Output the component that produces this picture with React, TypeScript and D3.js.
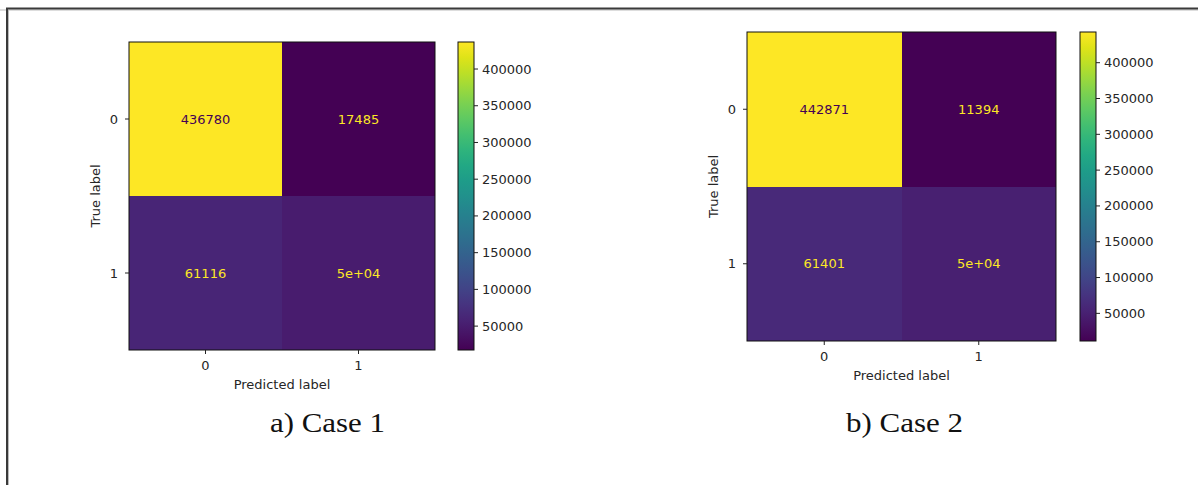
import React from "react";
import * as d3 from "d3";

// ---- data ----
const classLabels = ["0", "1"];
const case1Values = [
  [436780, 17485],
  [61116, 50000],
];
const case2Values = [
  [442871, 11394],
  [61401, 50000],
];
const colorbarTicks = [50000, 100000, 150000, 200000, 250000, 300000, 350000, 400000];
const panelTitles = ["a) Case 1", "b) Case 2"];
const xAxisTitle = "Predicted label";
const yAxisTitle = "True label";

// python-like sklearn formatting: '.2g' unless plain integer is shorter
function fmtCell(v: number): string {
  const d = String(Math.round(v));
  const exp = Math.floor(Math.log10(Math.abs(v)));
  let g: string;
  if (exp >= 2 || exp < -4) {
    const m = v / Math.pow(10, exp);
    const ms = (Math.round(m * 10) / 10).toString();
    const es = (exp >= 0 ? "+" : "-") + String(Math.abs(exp)).padStart(2, "0");
    g = ms + "e" + es;
  } else {
    g = String(Number(v.toPrecision(2)));
  }
  return d.length < g.length ? d : g;
}

type Layout = {
  x0: number; y0: number; w: number; h: number;
  cbX: number; cbW: number;
  titleX: number; titleLen: number;
};

const layouts: Layout[] = [
  { x0: 129, y0: 42, w: 306, h: 308, cbX: 458, cbW: 16, titleX: 327.5, titleLen: 115 },
  { x0: 747, y0: 32, w: 309, h: 309, cbX: 1080, cbW: 16, titleX: 904.5, titleLen: 117 },
];

const FONT = "'DejaVu Sans', sans-serif";
const TXT = "#262626";

function Panel({ values, layout, title, idx }: { values: number[][]; layout: Layout; title: string; idx: number }) {
  const { x0, y0, w, h, cbX, cbW } = layout;
  const flat = values.flat();
  const vmin = d3.min(flat)!;
  const vmax = d3.max(flat)!;
  const color = d3.scaleSequential(d3.interpolateViridis).domain([vmin, vmax]);
  const x = d3.scaleBand<string>().domain(classLabels).range([x0, x0 + w]);
  const y = d3.scaleBand<string>().domain(classLabels).range([y0, y0 + h]);
  const cb = d3.scaleLinear().domain([vmin, vmax]).range([y0 + h, y0]);
  const thresh = (vmin + vmax) / 2;
  const gradId = `viridis-grad-${idx}`;
  const clipId = `heat-clip-${idx}`;
  const stops = d3.range(0, 1.0001, 0.05);
  const bottom = y0 + h;

  return (
    <g>
      <defs>
        <linearGradient id={gradId} x1="0" y1="1" x2="0" y2="0">
          {stops.map((t) => (
            <stop key={t} offset={`${t * 100}%`} stopColor={d3.interpolateViridis(t)} />
          ))}
        </linearGradient>
        <clipPath id={clipId}>
          <rect x={x0} y={y0} width={w} height={h} />
        </clipPath>
      </defs>
      <g clipPath={`url(#${clipId})`}>
        {values.map((row, i) =>
          row.map((v, j) => (
            <rect
              key={`${i}-${j}`}
              x={Math.round(x(classLabels[j])!)}
              y={Math.round(y(classLabels[i])!)}
              width={Math.ceil(x.bandwidth()) + 1}
              height={Math.ceil(y.bandwidth()) + 1}
              fill={color(v)}
              shapeRendering="crispEdges"
            />
          ))
        )}
      </g>
      {values.map((row, i) =>
        row.map((v, j) => (
          <text
            key={`t${i}-${j}`}
            x={x(classLabels[j])! + x.bandwidth() / 2}
            y={y(classLabels[i])! + y.bandwidth() / 2}
            textAnchor="middle"
            dominantBaseline="central"
            fontFamily={FONT}
            fontSize={13}
            fill={v < thresh ? d3.interpolateViridis(1) : d3.interpolateViridis(0)}
          >
            {fmtCell(v)}
          </text>
        ))
      )}
      <rect x={x0} y={y0} width={w} height={h} fill="none" stroke="#111" strokeWidth={1} />
      {/* y ticks */}
      {classLabels.map((c) => {
        const cy = y(c)! + y.bandwidth() / 2;
        return (
          <g key={`yt${c}`}>
            <line x1={x0 - 4} x2={x0} y1={cy} y2={cy} stroke="#222" strokeWidth={1} />
            <text x={x0 - 11} y={cy} textAnchor="end" dominantBaseline="central" fontFamily={FONT} fontSize={13} fill={TXT}>
              {c}
            </text>
          </g>
        );
      })}
      {/* x ticks */}
      {classLabels.map((c) => {
        const cx = x(c)! + x.bandwidth() / 2;
        return (
          <g key={`xt${c}`}>
            <line x1={cx} x2={cx} y1={bottom} y2={bottom + 4} stroke="#222" strokeWidth={1} />
            <text x={cx} y={bottom + 20} textAnchor="middle" fontFamily={FONT} fontSize={13} fill={TXT}>
              {c}
            </text>
          </g>
        );
      })}
      <text x={x0 + w / 2} y={bottom + 39} textAnchor="middle" fontFamily={FONT} fontSize={13} fill={TXT}>
        {xAxisTitle}
      </text>
      <text
        transform={`translate(${x0 - 29},${y0 + h / 2}) rotate(-90)`}
        textAnchor="middle"
        fontFamily={FONT}
        fontSize={13}
        fill={TXT}
      >
        {yAxisTitle}
      </text>
      {/* colorbar */}
      <rect x={cbX} y={y0} width={cbW} height={h} fill={`url(#${gradId})`} stroke="#111" strokeWidth={1} />
      {colorbarTicks.map((t) => (
        <g key={`cb${t}`}>
          <line x1={cbX + cbW} x2={cbX + cbW + 4} y1={cb(t)} y2={cb(t)} stroke="#222" strokeWidth={1} />
          <text x={cbX + cbW + 8} y={cb(t)} dominantBaseline="central" fontFamily={FONT} fontSize={13} fill={TXT}>
            {t}
          </text>
        </g>
      ))}
      <text
        x={layout.titleX}
        y={432}
        textAnchor="middle"
        fontFamily="'Liberation Serif', 'Times New Roman', serif"
        fontSize={28}
        fill="#111"
        textLength={layout.titleLen}
        lengthAdjust="spacingAndGlyphs"
      >
        {title}
      </text>
    </g>
  );
}

export default function App() {
  const allValues = [case1Values, case2Values];
  return (
    <svg
      width={1198}
      height={485}
      style={{ position: "absolute", left: 0, top: 0, background: "#fff" }}
    >
      <rect x={0} y={0} width={1198} height={485} fill="#fff" />
      <line x1={0} x2={1198} y1={10} y2={10} stroke="#bbb" strokeWidth={1} />
      <line x1={8.5} x2={8.5} y1={10} y2={485} stroke="#bbb" strokeWidth={1} />
      <path d="M7,485 L7,8.5 L1198,8.5" fill="none" stroke="#3a3a3a" strokeWidth={2} />
      {allValues.map((vals, i) => (
        <Panel key={i} idx={i} values={vals} layout={layouts[i]} title={panelTitles[i]} />
      ))}
    </svg>
  );
}
